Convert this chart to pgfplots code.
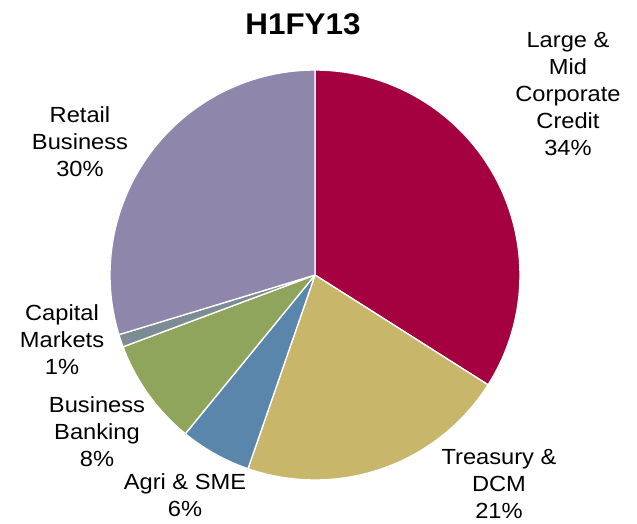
\documentclass[border=0pt]{standalone}
\usepackage{pgfplots}
\pgfplotsset{compat=1.18}
\usepackage{fontspec}
\setmainfont{Liberation Sans}[FakeStretch=1.08]
\newfontfamily\titlefont{Liberation Sans}[FakeStretch=1.05]

\definecolor{cLarge}{HTML}{A50040}
\definecolor{cTreas}{HTML}{C8B76B}
\definecolor{cAgri}{HTML}{5A86AB}
\definecolor{cBB}{HTML}{8FA55B}
\definecolor{cCM}{HTML}{7B8C94}
\definecolor{cRetail}{HTML}{8E86AB}

\tikzset{lbl/.style={align=center, anchor=center, font=\fontsize{16.5}{20.25}\selectfont}}

\gdef\cum{0}
% value (percent), colour
\newcommand\pieslice[2]{%
  \pgfmathsetmacro\sa{90-3.6*\cum}%
  \pgfmathsetmacro\newcum{\cum+#1}%
  \pgfmathsetmacro\ea{90-3.6*\newcum}%
  \xdef\cum{\newcum}%
  \def\pts{}%
  \pgfplotsforeachungrouped \ii in {0,...,60}{%
    \pgfmathsetmacro\ang{\sa+(\ea-\sa)*\ii/60}%
    \pgfmathsetmacro\px{315+205*cos(\ang)}%
    \pgfmathsetmacro\py{249+205*sin(\ang)}%
    \edef\pts{\pts (\px,\py)}%
  }%
  \edef\doplot{\noexpand\addplot[fill=#2, draw=white, line width=1.0pt, line join=round] coordinates {(315,249) \pts (315,249)};}%
  \doplot
}

\begin{document}
\begin{tikzpicture}
\begin{axis}[
  scale only axis, width=477.75bp, height=393bp,
  xmin=0, xmax=637, ymin=0, ymax=524,
  hide axis, clip=false,
]
\gdef\cum{0}
\pieslice{34}{cLarge}
\pieslice{21.3}{cTreas}
\pieslice{5.6}{cAgri}
\pieslice{8.4}{cBB}
\pieslice{1.0}{cCM}
\pieslice{29.7}{cRetail}

\path (axis cs:0,0) rectangle (axis cs:637,524);

\node[anchor=center, font=\titlefont\bfseries\fontsize{22.5}{27}\selectfont] at (axis cs:303,500) {H1FY13};

\node[lbl] at (axis cs:568,430) {Large \&\\Mid\\Corporate\\Credit\\34\%};
\node[lbl] at (axis cs:499,40) {Treasury \&\\DCM\\21\%};
\node[lbl] at (axis cs:185,29) {Agri \& SME\\6\%};
\node[lbl] at (axis cs:97,92) {Business\\Banking\\8\%};
\node[lbl] at (axis cs:62,184) {Capital\\Markets\\1\%};
\node[lbl] at (axis cs:80,382) {Retail\\Business\\30\%};
\end{axis}
\end{tikzpicture}
\end{document}
